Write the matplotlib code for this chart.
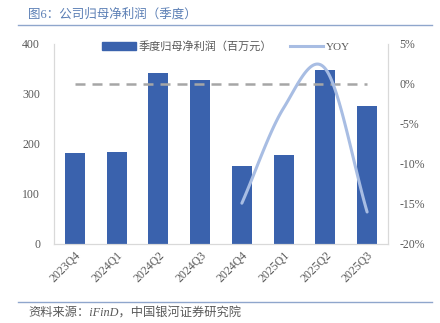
import matplotlib.pyplot as plt
import numpy as np
from matplotlib.lines import Line2D
from matplotlib.patches import Patch

plt.rcParams['font.family'] = ['Liberation Serif', 'Noto Sans CJK SC']

quarters = ['2023Q4', '2024Q1', '2024Q2', '2024Q3', '2024Q4', '2025Q1', '2025Q2', '2025Q3']
profit = [182, 184, 342, 328, 156, 178, 348, 276]
yoy_quarters = ['2024Q4', '2025Q1', '2025Q2', '2025Q3']
yoy = [-14.9, -3.0, 1.9, -16.0]

bar_color = '#3a62ad'
line_color = '#a8bde3'
text_color = '#595959'


def smooth(xs, ys, n=40):
    # Excel-like smoothed line (Catmull-Rom through the points)
    xs = np.asarray(xs, float)
    ys = np.asarray(ys, float)
    px = np.concatenate([[2 * xs[0] - xs[1]], xs, [2 * xs[-1] - xs[-2]]])
    py = np.concatenate([[2 * ys[0] - ys[1]], ys, [2 * ys[-1] - ys[-2]]])
    ox, oy = [], []
    for i in range(1, len(px) - 2):
        t = np.linspace(0, 1, n)
        for p, out in ((px, ox), (py, oy)):
            p0, p1, p2, p3 = p[i - 1], p[i], p[i + 1], p[i + 2]
            out.extend(0.5 * (2 * p1 + (-p0 + p2) * t + (2 * p0 - 5 * p1 + 4 * p2 - p3) * t ** 2
                              + (-p0 + 3 * p1 - 3 * p2 + p3) * t ** 3))
    return np.array(ox), np.array(oy)


fig = plt.figure(figsize=(4.4, 3.23), dpi=100)
ax = fig.add_axes([0.1227, 0.2446, 0.7591, 0.6192])
ax2 = ax.twinx()

x = np.arange(len(quarters))
ax.bar(x, profit, width=0.48, color=bar_color, zorder=2)
ax.set_ylim(0, 400)
ax.set_yticks(np.arange(0, 401, 100))
ax.set_xlim(-0.5, len(quarters) - 0.5)
ax.set_xticks(x)
ax.set_xticklabels(quarters, rotation=45, ha='right', rotation_mode='anchor')

# zero reference line and YOY curve on the right axis
ax2.plot(x, np.zeros(len(x)), color='#a6a6a6', lw=1.8, ls=(0, (4, 2.8)), zorder=3)
yx = np.array([quarters.index(q) for q in yoy_quarters])
sx, sy = smooth(yx, yoy)
ax2.plot(sx, sy, color=line_color, lw=2.2, solid_capstyle='round', zorder=4)
ax2.set_ylim(-20, 5)
ax2.set_yticks(np.arange(-20, 6, 5))
ax2.set_yticklabels([f'{v}%' for v in range(-20, 6, 5)])

for a in (ax, ax2):
    for s in a.spines.values():
        s.set_color('#d9d9d9')
        s.set_linewidth(0.8)
    a.spines['top'].set_visible(False)
    a.tick_params(length=0, labelsize=8.5, labelcolor=text_color)
ax.tick_params(axis='x', pad=4)
ax.tick_params(axis='y', pad=10)
ax2.tick_params(axis='y', pad=8)

handles = [Patch(color=bar_color), Line2D([0], [0], color=line_color, lw=2.2)]
ax.legend(handles, ['季度归母净利润（百万元）', 'YOY'], loc='upper center',
          bbox_to_anchor=(0.515, 1.065), ncol=2, frameon=False, fontsize=8,
          handlelength=3.0, handletextpad=0.25, columnspacing=1.6,
          labelcolor=text_color)

fig.text(0.064, 0.955, '图6：公司归母净利润（季度）', fontsize=9, color='#5b7fb5',
         va='center', ha='left')
fig.add_artist(Line2D([0.04, 0.982], [0.922, 0.922], color='#8fa6cc', lw=1.0))
fig.add_artist(Line2D([0.04, 0.982], [0.065, 0.065], color='#8fa6cc', lw=1.0))
fig.text(0.064, 0.028, '资料来源：iFinD，中国银河证券研究院', fontsize=8.8, color=text_color,
         style='italic', va='center', ha='left')

fig.savefig('out.png', dpi=100)
